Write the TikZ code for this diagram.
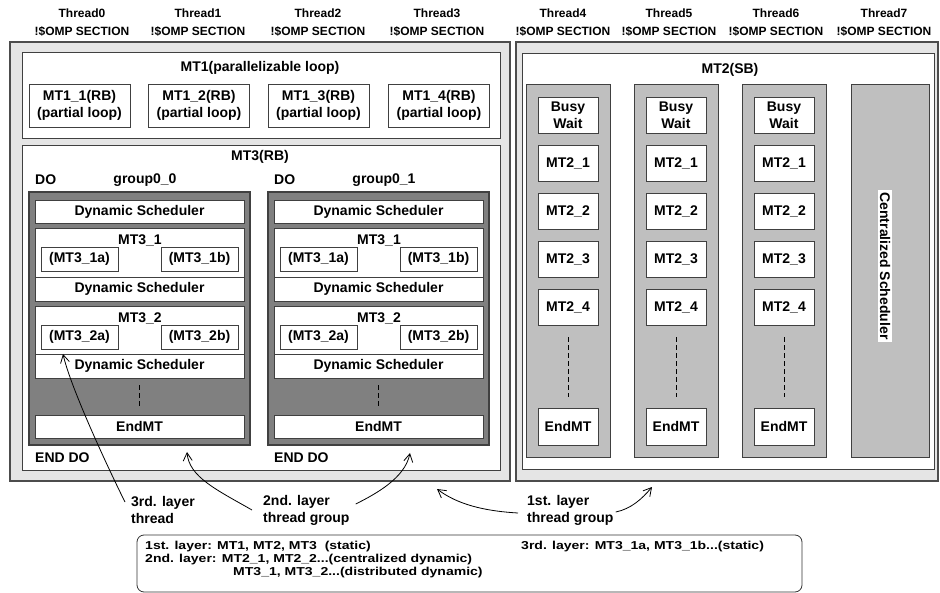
\documentclass[tikz,border=0pt]{standalone}
\usepackage{fontspec}
\setmainfont{Liberation Sans}
\newfontfamily\legendfont[FakeStretch=1.22]{Liberation Sans}
\usetikzlibrary{fit,arrows.meta}
\begin{document}
\begin{tikzpicture}[x=1pt,y=-1pt,
  thr/.style={font=\fontsize{12}{14}\selectfont\bfseries,inner sep=0pt},
  lbl/.style={font=\fontsize{14}{17}\selectfont\bfseries,inner sep=0pt,align=center},
  note/.style={font=\legendfont\fontsize{11.5}{13.3}\selectfont\bfseries,inner sep=0pt,align=left},
  outer/.style={draw=black!70,fill=black!10,line width=1.2pt,inner sep=0pt},
  box/.style={draw=black!75,fill=white,line width=0.8pt,inner sep=0pt,lbl},
  sized/.style 2 args={minimum width=#1,minimum height=#2},
  grp/.style={draw=black!75,fill=black!50,line width=1.5pt,inner sep=0pt},
  col/.style={draw=black!75,fill=black!25,line width=0.8pt,inner sep=0pt},
  dashline/.style={dash pattern=on 5pt off 3pt,line width=0.8pt},
  conn/.style={-{Straight Barb[length=8pt,width=9pt]},line width=0.8pt}]
\useasboundingbox (0,0) rectangle (940,593);
\foreach \t/\tx in {0/82,1/198,2/318,3/437,4/563,5/669,6/776,7/884}{
  \node[thr] (th\t) at (\tx,13) {Thread\t};
  \node[thr] (sec\t) at (\tx,31) {!\$OMP SECTION};
}
\node[outer,fit={(10,42) (510,481)}] (left) {};
\node[outer,fit={(516,42) (938,481)}] (right) {};
% MT1
\node[box,fit={(22,52) (500,138)}] (mt1) {};
\node[lbl] (mt1t) at (260,68) {MT1(parallelizable loop)};
\foreach \i/\cx in {1/79.5,2/199,3/318.5,4/439}
  \node[box,sized={101}{43}] (mt1\i) at (\cx,105.5) {MT1\_\i(RB)\\(partial loop)};
% MT3
\node[box,fit={(22,145) (500,470)}] (mt3) {};
\node[lbl] (mt3t) at (260,157) {MT3(RB)};
\foreach \g/\dx in {0/0,1/239}{
  \node[lbl,anchor=west] (do\g) at (35+\dx,180) {DO};
  \node[lbl] (gname\g) at (145+\dx,180) {group0\_\g};
  \node[grp,fit={(29+\dx,192) (250+\dx,445)}] (grp\g) {};
  \node[box,sized={209}{23}] (dsa\g) at (139.5+\dx,211.5) {Dynamic Scheduler};
  \node[box,sized={209}{49}] (mta\g) at (139.5+\dx,252.5) {};
  \node[lbl] (mtat\g) at (140+\dx,240) {MT3\_1};
  \node[box,sized={77}{24}] (sa\g) at (79.5+\dx,259) {(MT3\_1a)};
  \node[box,sized={77}{24}] (sb\g) at (199.5+\dx,259) {(MT3\_1b)};
  \node[box,sized={209}{24}] (dsb\g) at (139.5+\dx,289) {Dynamic Scheduler};
  \node[box,sized={209}{48}] (mtb\g) at (139.5+\dx,330) {};
  \node[lbl] (mtbt\g) at (140+\dx,318) {MT3\_2};
  \node[box,sized={77}{24}] (sc\g) at (79.5+\dx,337) {(MT3\_2a)};
  \node[box,sized={77}{24}] (sd\g) at (199.5+\dx,337) {(MT3\_2b)};
  \node[box,sized={209}{24}] (dsc\g) at (139.5+\dx,366) {Dynamic Scheduler};
  \node[box,sized={209}{23}] (end\g) at (139.5+\dx,426.5) {EndMT};
  \draw[dashline] ([yshift=-7pt]dsc\g.south) -- ([yshift=7pt]end\g.north);
  \node[lbl,anchor=west] (enddo\g) at (35+\dx,458) {END DO};
}
% MT2
\node[box,fit={(522,53) (934,469)}] (mt2) {};
\node[lbl] (mt2t) at (730,70) {MT2(SB)};
\foreach \c/\cx in {1/568,2/676,3/784}{
  \node[col,sized={84}{373}] (col\c) at (\cx,270.5) {};
  \node[box,sized={60}{36}] (bw\c) at (\cx,115) {Busy\\Wait};
  \foreach \k/\cy in {1/163,2/211,3/259,4/307}
    \node[box,sized={60}{36}] (mt2\c\k) at (\cx,\cy) {MT2\_\k};
  \node[box,sized={60}{37}] (em\c) at (\cx,426.5) {EndMT};
  \draw[dashline] ([yshift=-12pt]mt2\c4.south) -- ([yshift=11pt]em\c.north);
}
\node[col,fit={(851,84) (929,457)}] (colc) {};
\node[lbl,fill=white,inner sep=2pt,rotate=-90] (csch) at (885,266) {Centralized Scheduler};
% layers
\node[lbl,align=left,anchor=west] (l3) at (131,510) {3rd. layer\\thread};
\node[lbl,align=left,anchor=west] (l2) at (263,510) {2nd. layer\\thread group};
\node[lbl,align=left,anchor=west] (l1) at (527,510) {1st. layer\\thread group};
\coordinate (t3) at (63,354);
\coordinate (t2a) at (187,452);
\coordinate (t2b) at (410,453);
\coordinate (t1a) at (437,489);
\coordinate (t1b) at (652,487);
\draw[conn] ([xshift=-6pt,yshift=8pt]l3.west) .. controls +(-15,-30) and +(8,35) .. (t3);
\draw[conn] ([xshift=-11pt]l2.west) .. controls +(-35,-20) and +(2,25) .. (t2a);
\draw[conn] ([xshift=6pt,yshift=6pt]l2.east) .. controls +(20,-10) and +(-5,25) .. (t2b);
\draw[conn] ([xshift=-9pt,yshift=-3pt]l1.west) .. controls +(-35,-2) and +(20,15) .. (t1a);
\draw[conn] ([xshift=2pt,yshift=-2pt]l1.east) .. controls +(15,-3) and +(-10,12) .. (t1b);
\node[draw=black!80,line width=0.8pt,rounded corners=7pt,fit={(137,535) (802,592)},inner sep=0pt] (legend) {};
\node[note,anchor=west] (lega) at (145,547) {1st. layer: MT1, MT2, MT3\ \ (static)};
\node[note,anchor=west] (legb) at (145,560) {2nd. layer: MT2\_1, MT2\_2...(centralized dynamic)};
\node[note,anchor=west] (legc) at (233,573) {MT3\_1, MT3\_2...(distributed dynamic)};
\node[note,anchor=west] (legd) at (521,547) {3rd. layer: MT3\_1a, MT3\_1b...(static)};
\end{tikzpicture}
\end{document}
